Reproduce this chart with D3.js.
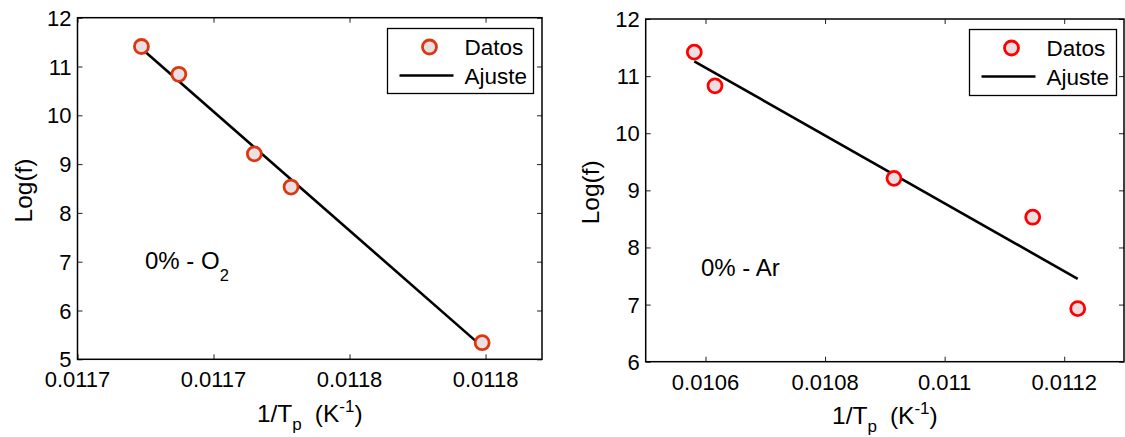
<!DOCTYPE html>
<html>
<head>
<meta charset="utf-8">
<script src="https://cdn.jsdelivr.net/npm/d3@7"></script>
<style>
  html, body { margin: 0; padding: 0; background: #fff; }
  svg { display: block; }
  text { font-family: "Liberation Sans", Arial, sans-serif; fill: #000; }
</style>
</head>
<body>
<svg id="chart" width="1125" height="437"></svg>
<script>
// ---- O2 series (left panel) ----
const o2InvTp   = [0.0117294, 0.0117349, 0.0117460, 0.0117514, 0.0117795];
const o2LogF    = [11.41, 10.84, 9.21, 8.53, 5.34];
const o2FitX    = [0.0117294, 0.0117795];
const o2FitY    = [11.37, 5.26];
const o2XTicks  = [0.01172, 0.01174, 0.01176, 0.01178];
const o2XLabels = ["0.0117", "0.0117", "0.0118", "0.0118"];
const o2YTicks  = [5, 6, 7, 8, 9, 10, 11, 12];

// ---- Ar series (right panel) ----
const arInvTp   = [0.0105813, 0.0106159, 0.0109153, 0.0111473, 0.0112226];
const arLogF    = [11.42, 10.83, 9.21, 8.53, 6.93];
const arFitX    = [0.0105813, 0.0112226];
const arFitY    = [11.26, 7.45];
const arXTicks  = [0.0106, 0.0108, 0.0110, 0.0112];
const arXLabels = ["0.0106", "0.0108", "0.011", "0.0112"];
const arYTicks  = [6, 7, 8, 9, 10, 11, 12];

const legendLabels = ["Datos", "Ajuste"];

const svg = d3.select("#chart");

function drawPanel(p) {
  const x = d3.scaleLinear().domain(p.xDomain).range([p.left, p.right]);
  const y = d3.scaleLinear().domain(p.yDomain).range([p.bottom, p.top]);
  const g = svg.append("g");
  const tickLen = 5;

  // inward ticks on all four sides
  const axes = [
    d3.axisBottom(x).tickValues(p.xTicks).tickSize(-tickLen).tickFormat(""),
    d3.axisTop(x).tickValues(p.xTicks).tickSize(-tickLen).tickFormat(""),
    d3.axisLeft(y).tickValues(p.yTicks).tickSize(-tickLen).tickFormat(""),
    d3.axisRight(y).tickValues(p.yTicks).tickSize(-tickLen).tickFormat("")
  ];
  const offsets = [[0, p.bottom], [0, p.top], [p.left, 0], [p.right, 0]];
  axes.forEach((ax, i) => {
    const a = g.append("g").attr("transform", `translate(${offsets[i][0]},${offsets[i][1]})`).call(ax);
    a.select(".domain").remove();
    a.selectAll(".tick line").attr("stroke", "#222").attr("stroke-width", 1);
  });

  // tick labels
  g.selectAll(".xl").data(p.xTicks).enter().append("text")
    .attr("x", d => x(d)).attr("y", p.bottom + 28)
    .attr("text-anchor", "middle").attr("font-size", 22)
    .text((d, i) => p.xLabels[i]);
  g.selectAll(".yl").data(p.yTicks).enter().append("text")
    .attr("x", p.left - 6).attr("y", d => y(d) + 8)
    .attr("text-anchor", "end").attr("font-size", 22)
    .text(d => d);

  // frame
  g.append("rect")
    .attr("x", p.left).attr("y", p.top)
    .attr("width", p.right - p.left).attr("height", p.bottom - p.top)
    .attr("fill", "none").attr("stroke", "#000").attr("stroke-width", 1.5);

  // fitted line
  const fit = p.fitX.map((v, i) => [v, p.fitY[i]]);
  g.append("path")
    .attr("d", d3.line().x(d => x(d[0])).y(d => y(d[1]))(fit))
    .attr("fill", "none").attr("stroke", "#000").attr("stroke-width", 2.6);

  // data markers
  const pts = p.xs.map((v, i) => [v, p.ys[i]]);
  g.selectAll(".pt").data(pts).enter().append("circle")
    .attr("cx", d => x(d[0])).attr("cy", d => y(d[1])).attr("r", 7)
    .attr("fill", "#ecdfe1").attr("stroke", p.markerColor).attr("stroke-width", 2.8);

  // legend
  const L = p.legend;
  const lg = g.append("g").attr("transform", `translate(${L.x},${L.y})`);
  lg.append("rect").attr("width", L.w).attr("height", L.h)
    .attr("fill", "#fff").attr("stroke", "#000").attr("stroke-width", 1.3);
  lg.append("circle").attr("cx", 42).attr("cy", 18.5).attr("r", 7)
    .attr("fill", "#ecdfe1").attr("stroke", p.markerColor).attr("stroke-width", 2.8);
  lg.append("line").attr("x1", 12).attr("x2", 66).attr("y1", 47).attr("y2", 47)
    .attr("stroke", "#000").attr("stroke-width", 2.6);
  lg.selectAll(".lt").data(legendLabels).enter().append("text")
    .attr("x", 77).attr("y", (d, i) => i === 0 ? 26 : 55)
    .attr("font-size", 22.5).text(d => d);

  // axis titles
  g.append("text")
    .attr("transform", `translate(${p.yTitleX},${(p.top + p.bottom) / 2 + 2}) rotate(-90)`)
    .attr("text-anchor", "middle").attr("font-size", 24.5).text("Log(f)");

  const xt = g.append("text")
    .attr("x", (p.left + p.right) / 2).attr("y", p.xTitleY)
    .attr("text-anchor", "middle").attr("font-size", 24.5);
  xt.append("tspan").text("1/T");
  xt.append("tspan").attr("font-size", 17).attr("dy", 8).text("p");
  xt.append("tspan").attr("dy", -8).attr("dx", 13).text("(K");
  xt.append("tspan").attr("font-size", 17).attr("dy", -10).text("-1");
  xt.append("tspan").attr("dy", 10).text(")");

  // series annotation
  const an = g.append("text").attr("x", p.note.x).attr("y", p.note.y).attr("font-size", 24);
  an.append("tspan").text(p.note.text);
  if (p.note.sub) {
    an.append("tspan").attr("font-size", 16.5).attr("dy", 12).text(p.note.sub);
  }
}

drawPanel({
  left: 77.5, right: 542, top: 17.7, bottom: 359.3,
  xDomain: [0.01172, 0.0117883], yDomain: [5, 12],
  xTicks: o2XTicks, xLabels: o2XLabels, yTicks: o2YTicks,
  xs: o2InvTp, ys: o2LogF, fitX: o2FitX, fitY: o2FitY,
  markerColor: "#db3812",
  legend: { x: 387.5, y: 28.5, w: 146, h: 65 },
  yTitleX: 32, xTitleY: 422,
  note: { x: 145, y: 268.5, text: "0% - O", sub: "2" }
});

drawPanel({
  left: 645.7, right: 1124, top: 19, bottom: 361.7,
  xDomain: [0.0105, 0.0113], yDomain: [6, 12],
  xTicks: arXTicks, xLabels: arXLabels, yTicks: arYTicks,
  xs: arInvTp, ys: arLogF, fitX: arFitX, fitY: arFitY,
  markerColor: "#ff0000",
  legend: { x: 969.5, y: 29.5, w: 147, h: 66 },
  yTitleX: 599, xTitleY: 424,
  note: { x: 701, y: 275.5, text: "0% - Ar" }
});
</script>
</body>
</html>
